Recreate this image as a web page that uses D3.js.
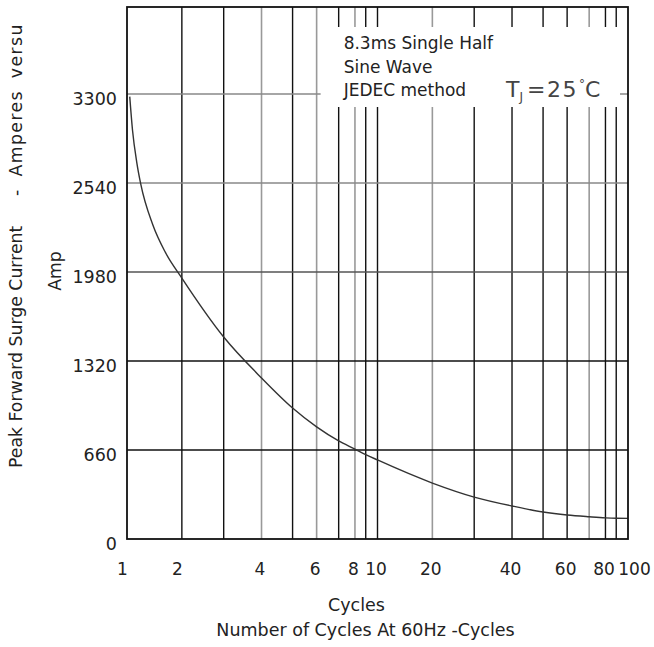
<!DOCTYPE html>
<html>
<head>
<meta charset="utf-8">
<script src="https://cdn.jsdelivr.net/npm/d3@7"></script>
<style>
    body { margin: 0; background: #fff; }
    svg text { font-family: "DejaVu Sans", sans-serif; fill: #222; }
</style>
</head>
<body>
<div id="chart"></div>
<script>

// surge curve
const cycles    = [1.05, 1.10, 1.18, 1.25, 1.47, 1.7, 2, 3, 4, 5, 6, 7, 8, 9, 10, 20, 30, 40, 50, 60, 70, 80, 90, 100];
const surgeAmps = [3280, 3033, 2788, 2633, 2330, 2125, 1935, 1498, 1194, 971, 831, 727, 667, 626, 586, 415, 311, 245, 200, 178, 165, 157, 154, 153];

// grid lines and tick labels
const xGrid = [1, 2, 3, 4, 5, 6, 7, 8, 9, 10, 20, 30, 40, 50, 60, 70, 80, 90, 100];
const xGridGray = [4, 6, 8, 20, 70];
const xTickLabels = [1, 2, 4, 6, 8, 10, 20, 40, 60, 80, 100];
const yTicks = [0, 660, 1320, 1980, 2640, 3300];
const yTickLabels = ["0", "660", "1320", "1980", "2540", "3300"];
const yGridColor = ["#000", "#111", "#111", "#555", "#888", "#888"];

const noteLines = ["8.3ms Single Half", "Sine Wave", "JEDEC method"];


class SurgeChart {

    constructor(parentElement) {
        this.parentElement = parentElement;
        this.initVis();
    }

    initVis() {
        let vis = this;

        vis.margin = {top: 7, right: 26, bottom: 108, left: 127};
        vis.width = 654 - vis.margin.left - vis.margin.right;
        vis.height = 647 - vis.margin.top - vis.margin.bottom;

        vis.svg = d3.select("#" + vis.parentElement).append("svg")
            .attr("width", 654)
            .attr("height", 647);

        vis.g = vis.svg.append("g")
            .attr("transform", `translate(${vis.margin.left}, ${vis.margin.top})`);

        // the printed log paper is not a true log: keep its spacing per decade
        let spacing = [0, .219, .386, .537, .661, .757, .845, .91, .953];
        let decade = vis.width / 2;
        vis.x = d3.scaleLinear()
            .domain(xGrid)
            .range(xGrid.map((v, i) => decade * (Math.floor(i / 9) + spacing[i % 9])));

        vis.y = d3.scaleLinear()
            .domain([0, 3945])
            .range([vis.height, 0]);

        vis.wrangleData();
    }

    wrangleData() {
        let vis = this;
        vis.displayData = cycles.map((c, i) => ({cycles: c, amps: surgeAmps[i]}));
        vis.updateVis();
    }

    updateVis() {
        let vis = this;

        // vertical grid
        vis.g.selectAll(".vgrid")
            .data(xGrid.slice(1, -1))
            .enter().append("line")
            .attr("class", "vgrid")
            .attr("x1", d => vis.x(d))
            .attr("x2", d => vis.x(d))
            .attr("y1", 0)
            .attr("y2", vis.height)
            .attr("stroke", d => xGridGray.includes(d) ? "#999" : "#111")
            .attr("stroke-width", d => xGridGray.includes(d) ? 1.6 : 1.4);

        // horizontal grid
        vis.g.selectAll(".hgrid")
            .data(yTicks.slice(1))
            .enter().append("line")
            .attr("class", "hgrid")
            .attr("x1", 0)
            .attr("x2", vis.width)
            .attr("y1", d => vis.y(d))
            .attr("y2", d => vis.y(d))
            .attr("stroke", (d, i) => yGridColor[i + 1])
            .attr("stroke-width", 1.5);

        // note box blanks out the grid in the upper right
        let boxLeft = vis.x(6) + 4;
        vis.g.append("rect")
            .attr("x", boxLeft)
            .attr("y", 20)
            .attr("width", vis.width - 8 - boxLeft)
            .attr("height", 80)
            .attr("fill", "#fff");

        vis.g.selectAll(".note")
            .data(noteLines)
            .enter().append("text")
            .attr("class", "note")
            .attr("x", boxLeft + 23)
            .attr("y", (d, i) => 42 + i * 23.5)
            .attr("font-size", "17px")
            .text(d => d);

        let tj = vis.g.append("text")
            .attr("x", vis.width - 122)
            .attr("y", 90)
            .attr("font-size", "22px")
            .style("fill", "#444");
        tj.append("tspan").text("T");
        tj.append("tspan").attr("font-size", "12px").attr("dy", 4).text("J");
        tj.append("tspan").attr("dy", -4).attr("dx", 4).attr("letter-spacing", 1.5).text("=25");
        tj.append("tspan").attr("font-size", "12px").attr("dy", -9).attr("dx", 1).text("°");
        tj.append("tspan").attr("dy", 9).text("C");

        // curve
        let line = d3.line()
            .x(d => vis.x(d.cycles))
            .y(d => vis.y(d.amps))
            .curve(d3.curveMonotoneX);

        vis.g.append("path")
            .datum(vis.displayData)
            .attr("d", line)
            .attr("fill", "none")
            .attr("stroke", "#333")
            .attr("stroke-width", 1.4);

        // frame
        vis.g.append("rect")
            .attr("width", vis.width)
            .attr("height", vis.height)
            .attr("fill", "none")
            .attr("stroke", "#111")
            .attr("stroke-width", 1.8);

        // axes
        let xAxis = vis.g.append("g")
            .attr("transform", `translate(0, ${vis.height})`)
            .call(d3.axisBottom(vis.x).tickValues(xTickLabels).tickFormat(d3.format("d")).tickSize(0).tickPadding(24));

        let yAxis = vis.g.append("g")
            .call(d3.axisLeft(vis.y).tickValues(yTicks).tickFormat((d, i) => yTickLabels[i]).tickSize(0).tickPadding(10));

        vis.g.selectAll(".domain").remove();
        xAxis.selectAll("text")
            .attr("dx", d => d === 100 ? 6 : d < 3 ? -5 : -2)
            .attr("font-size", "17px")
            .attr("font-family", null);
        yAxis.selectAll("text")
            .attr("dy", "0.62em")
            .attr("font-size", "17.5px")
            .attr("font-family", null);

        // axis titles
        vis.svg.append("text")
            .attr("x", vis.margin.left + vis.width / 2 - 21)
            .attr("y", 611)
            .attr("text-anchor", "middle")
            .attr("font-size", "17.5px")
            .text("Cycles");

        vis.svg.append("text")
            .attr("x", vis.margin.left + vis.width / 2 - 12)
            .attr("y", 636)
            .attr("text-anchor", "middle")
            .attr("font-size", "17.5px")
            .text("Number of Cycles At 60Hz -Cycles");

        vis.svg.append("text")
            .attr("transform", "translate(22, 468) rotate(-90)")
            .attr("font-size", "17.3px")
            .text("Peak Forward Surge Current");

        vis.svg.append("text")
            .attr("transform", "translate(22, 196) rotate(-90)")
            .attr("font-size", "17.3px")
            .attr("letter-spacing", 1.4)
            .attr("word-spacing", 5)
            .text("- Amperes versu");

        vis.svg.append("text")
            .attr("transform", "translate(61, 271) rotate(-90)")
            .attr("text-anchor", "middle")
            .attr("font-size", "17.3px")
            .text("Amp");
    }
}

new SurgeChart("chart");

</script>
</body>
</html>
